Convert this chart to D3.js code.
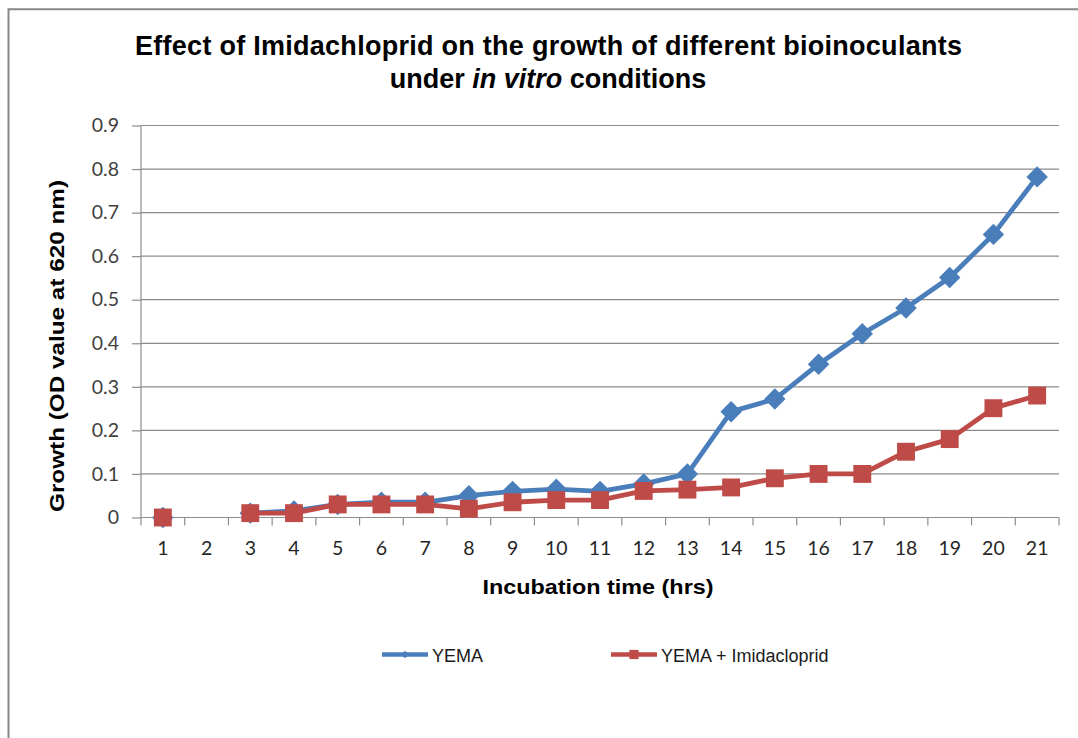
<!DOCTYPE html>
<html><head><meta charset="utf-8">
<script src="https://cdn.jsdelivr.net/npm/d3@7"></script>
<style>body{margin:0;background:#fff}</style></head>
<body><svg id="c" width="1078" height="738"></svg>
<script>
const categories = ["1","2","3","4","5","6","7","8","9","10","11","12","13","14","15","16","17","18","19","20","21"];
const yema = [0, null, 0.01, 0.015, 0.03, 0.035, 0.035, 0.05, 0.06, 0.065, 0.06, 0.077, 0.1, 0.243, 0.272, 0.352, 0.422, 0.481, 0.551, 0.65, 0.782];
const yemaImi = [0, null, 0.01, 0.01, 0.03, 0.03, 0.03, 0.02, 0.035, 0.04, 0.04, 0.061, 0.064, 0.069, 0.09, 0.1, 0.1, 0.151, 0.18, 0.251, 0.28];
const yTicks = [0,0.1,0.2,0.3,0.4,0.5,0.6,0.7,0.8,0.9];
const seriesNames = ["YEMA","YEMA + Imidacloprid"];

const svg = d3.select("#c");
svg.append("path").attr("d","M8.5,738 L8.5,9.3 L1078,9.3").attr("fill","none").attr("stroke","#888").attr("stroke-width",2);

const L=141, R=1059, T=125.5, B=517.5;
const x = d3.scaleBand().domain(categories).range([L,R]);
const y = d3.scaleLinear().domain([0,0.9]).range([B,T]);
const tickFont = "Lato, 'Open Sans', sans-serif";
const boldFont = "'Liberation Sans', Arial, sans-serif";

svg.append("g").selectAll("line").data(yTicks.slice(1)).join("line")
 .attr("x1",L).attr("x2",R).attr("y1",d=>y(d)).attr("y2",d=>y(d))
 .attr("stroke","#8c8c8c").attr("stroke-width",1.2);

const ya = svg.append("g").attr("transform",`translate(${L},0)`)
 .call(d3.axisLeft(y).tickValues(yTicks).tickSize(9).tickPadding(13).tickFormat(d=>d===0?"0":d3.format(".1f")(d)));
ya.select(".domain").attr("stroke","#8c8c8c").attr("stroke-width",1.2).attr("d",`M0,${T}V${B}`);
ya.selectAll(".tick line").attr("stroke","#8c8c8c").attr("stroke-width",1.2);
ya.selectAll("text").attr("font-family",tickFont).attr("font-size",19.5).attr("fill","#404040");

const xa = svg.append("g").attr("transform",`translate(0,${B})`)
 .call(d3.axisBottom(x).tickSize(0).tickPadding(24));
xa.select(".domain").attr("stroke","#8c8c8c").attr("stroke-width",1.2).attr("d",`M${L},0H${R}`);
xa.selectAll("text").attr("font-family",tickFont).attr("font-size",19.5).attr("fill","#262626");
svg.append("g").selectAll("line").data(d3.range(categories.length+1)).join("line")
 .attr("x1",i=>L+i*x.step()).attr("x2",i=>L+i*x.step())
 .attr("y1",B).attr("y2",B+8).attr("stroke","#8c8c8c").attr("stroke-width",1.2);

const cx = d=>x(d)+x.bandwidth()/2;
const line = d3.line().defined(d=>d.v!==null).x(d=>cx(d.c)).y(d=>y(d.v));
const series = [
 {name:seriesNames[0], vals:yema, color:"#4a7ebb", shape:"diamond"},
 {name:seriesNames[1], vals:yemaImi, color:"#be4b48", shape:"square"}
];
series.forEach(s=>{
  const pts = categories.map((c,i)=>({c, v:s.vals[i]}));
  svg.append("path").datum(pts).attr("d",line).attr("fill","none")
   .attr("stroke",s.color).attr("stroke-width",4.8).attr("stroke-linejoin","round");
  const sym = d3.symbol().type(d3.symbolSquare).size(s.shape==="diamond"?230:320);
  svg.append("g").selectAll("path").data(pts.filter(p=>p.v!==null)).join("path")
   .attr("d",sym).attr("fill",s.color)
   .attr("transform",p=>`translate(${cx(p.c)},${y(p.v)})${s.shape==="diamond"?" rotate(45)":""}`);
});

const t = svg.append("text").attr("text-anchor","middle").attr("font-family",boldFont)
 .attr("font-weight","bold").attr("font-size",27).attr("fill","#000");
t.append("tspan").attr("x",548.5).attr("y",54.5).attr("textLength",827).attr("lengthAdjust","spacing")
 .text("Effect of Imidachloprid on the growth of different bioinoculants");
const t2 = svg.append("text").attr("text-anchor","middle").attr("font-family",boldFont)
 .attr("font-weight","bold").attr("font-size",27).attr("fill","#000").attr("x",548).attr("y",88);
t2.append("tspan").text("under ");
t2.append("tspan").attr("font-style","italic").text("in vitro");
t2.append("tspan").text(" conditions");

svg.append("text").attr("x",598).attr("y",594).attr("text-anchor","middle")
 .attr("font-family",boldFont).attr("font-weight","bold").attr("font-size",20.5)
 .attr("textLength",231).attr("lengthAdjust","spacingAndGlyphs")
 .text("Incubation time (hrs)");
svg.append("text").attr("transform","translate(63.5,346) rotate(-90)").attr("text-anchor","middle")
 .attr("font-family",boldFont).attr("font-weight","bold").attr("font-size",21)
 .attr("textLength",332).attr("lengthAdjust","spacingAndGlyphs")
 .text("Growth  (OD value at 620 nm)");

const leg = [{x:382, s:series[0]},{x:611, s:series[1]}];
leg.forEach(l=>{
  const g = svg.append("g");
  g.append("line").attr("x1",l.x).attr("x2",l.x+46).attr("y1",654.5).attr("y2",654.5)
   .attr("stroke",l.s.color).attr("stroke-width",4.5);
  const sym = d3.symbol().type(d3.symbolSquare).size(l.s.shape==="diamond"?30:85);
  g.append("path").attr("d",sym).attr("fill",l.s.color)
   .attr("transform",`translate(${l.x+23},654.5)${l.s.shape==="diamond"?" rotate(45)":""}`);
  g.append("text").attr("x",l.x+50).attr("y",661.5).attr("font-family",boldFont)
   .attr("font-size",18).attr("fill","#1a1a1a").text(l.s.name);
});
</script></body></html>
